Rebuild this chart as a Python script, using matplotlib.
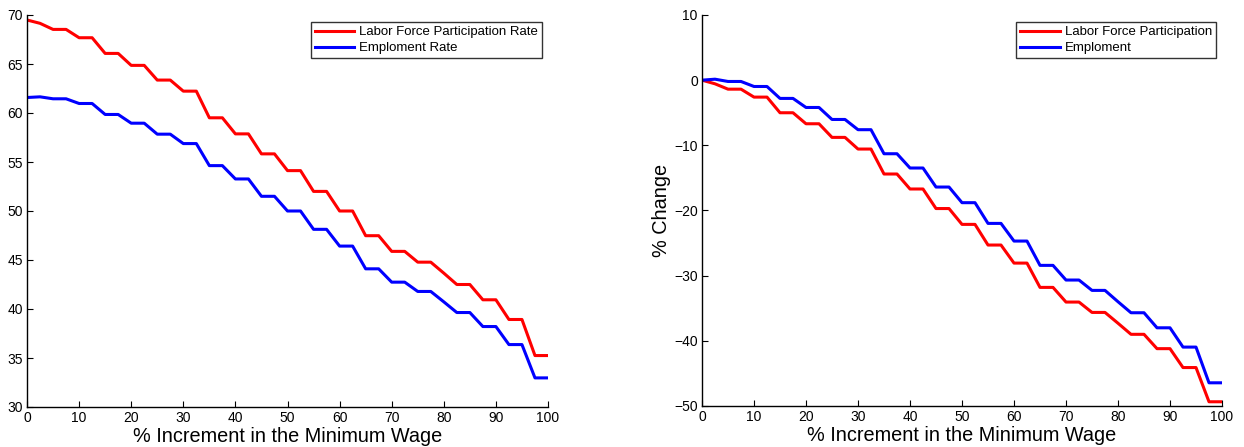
import matplotlib
matplotlib.use("Agg")
import matplotlib.pyplot as plt

plt.rcParams['font.family'] = ['Liberation Sans', 'DejaVu Sans']

increment = [0, 2.5, 5, 7.5, 10, 12.5, 15, 17.5, 20, 22.5, 25, 27.5, 30, 32.5, 35, 37.5,
             40, 42.5, 45, 47.5, 50, 52.5, 55, 57.5, 60, 62.5, 65, 67.5, 70, 72.5, 75, 77.5,
             80, 82.5, 85, 87.5, 90, 92.5, 95, 97.5, 100]

lfp_rate = [69.49, 69.15, 68.53, 68.53, 67.68, 67.68, 66.08, 66.08, 64.86, 64.86, 63.36, 63.36,
            62.23, 62.23, 59.51, 59.51, 57.87, 57.87, 55.83, 55.83, 54.12, 54.12, 52.0, 52.0,
            50.0, 50.0, 47.48, 47.48, 45.88, 45.88, 44.78, 44.78, 43.66, 42.50, 42.50, 40.94,
            40.94, 38.93, 38.93, 35.25, 35.25]

emp_rate = [61.58, 61.65, 61.45, 61.45, 60.97, 60.97, 59.85, 59.85, 58.96, 58.96, 57.84, 57.84,
            56.88, 56.88, 54.63, 54.63, 53.27, 53.27, 51.50, 51.50, 50.0, 50.0, 48.13, 48.13,
            46.42, 46.42, 44.10, 44.10, 42.74, 42.74, 41.79, 41.79, 40.73, 39.64, 39.64, 38.21,
            38.21, 36.37, 36.37, 32.97, 32.97]

lfp_change = [0.0, -0.56, -1.38, -1.38, -2.6, -2.6, -5.0, -5.0, -6.69, -6.69, -8.78, -8.78,
              -10.57, -10.57, -14.4, -14.4, -16.7, -16.7, -19.7, -19.7, -22.13, -22.13, -25.3, -25.3,
              -28.07, -28.07, -31.8, -31.8, -34.05, -34.05, -35.64, -35.64, -37.3, -39.0, -39.0,
              -41.2, -41.2, -44.1, -44.1, -49.35, -49.35]

emp_change = [0.0, 0.15, -0.2, -0.2, -0.97, -0.97, -2.8, -2.8, -4.19, -4.19, -6.03, -6.03,
              -7.6, -7.6, -11.29, -11.29, -13.48, -13.48, -16.4, -16.4, -18.8, -18.8, -21.98, -21.98,
              -24.69, -24.69, -28.42, -28.42, -30.67, -30.67, -32.26, -32.26, -34.0, -35.69, -35.69,
              -38.0, -38.0, -40.96, -40.96, -46.44, -46.44]

W, H = 1244, 447
fig = plt.figure(figsize=(W / 100, H / 100), dpi=100)

def ax_rect(x0, y0, x1, y1):
    return [x0 / W, 1 - y1 / H, (x1 - x0) / W, (y1 - y0) / H]

ax1 = fig.add_axes(ax_rect(27, 15, 548, 407))
ax2 = fig.add_axes(ax_rect(702, 15, 1222, 406))

def style(ax):
    for s in ['top', 'right']:
        ax.spines[s].set_visible(False)
    for s in ['left', 'bottom']:
        ax.spines[s].set_linewidth(1.0)
    ax.tick_params(direction='in', length=4, width=0.8, labelsize=10, pad=3)
    ax.set_xlim(0, 100)
    ax.set_xticks(range(0, 101, 10))
    ax.set_xlabel('% Increment in the Minimum Wage', fontsize=14.3, labelpad=1)

ax1.plot(increment, lfp_rate, color='#ff0000', lw=2.2, label='Labor Force Participation Rate')
ax1.plot(increment, emp_rate, color='#0000ff', lw=2.2, label='Emploment Rate')
style(ax1)
ax1.set_ylim(30, 70)
ax1.set_yticks(range(30, 71, 5))

ax2.plot(increment, lfp_change, color='#ff0000', lw=2.2, label='Labor Force Participation')
ax2.plot(increment, emp_change, color='#0000ff', lw=2.2, label='Emploment')
style(ax2)
ax2.set_ylim(-50, 10)
ax2.set_yticks(range(-50, 11, 10))
ax2.set_ylabel('% Change', fontsize=14.3, labelpad=2)

for ax in (ax1, ax2):
    leg = ax.legend(loc='upper right', bbox_to_anchor=(0.989, 0.982), fontsize=9.5,
                    frameon=True, fancybox=False, handlelength=3.0, handletextpad=0.4,
                    borderpad=0.3, labelspacing=0.3, borderaxespad=0)
    leg.get_frame().set_edgecolor('black')
    leg.get_frame().set_linewidth(1.0)

fig.savefig('out.png', dpi=100)
